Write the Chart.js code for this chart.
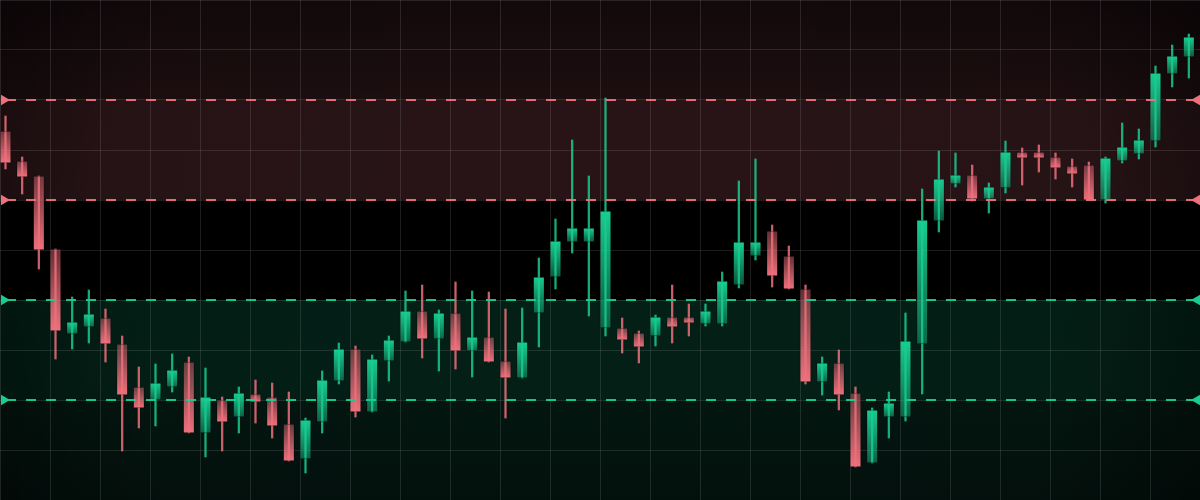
<!DOCTYPE html>
<html lang="en">
<head>
  <meta charset="UTF-8">
  <title>Candlestick Levels</title>
  <script src="https://cdn.jsdelivr.net/npm/chart.js"></script>
  <style>
    html, body { margin: 0; padding: 0; background: #000; }
    canvas { display: block; }
  </style>
</head>
<body>

<canvas id="myChart" width="1200" height="500"></canvas>

<script>
  // candle data (one entry per session)
  const opens  = [369, 339, 324, 251, 166, 173, 182, 156, 113, 100, 113, 138, 67, 100, 83, 106, 103, 76, 41, 78,
                  119, 151, 88, 139, 158, 189, 161, 187, 149, 163, 139, 122, 187, 223, 258, 258, 172, 172, 167, 164,
                  183, 183, 176, 176, 215, 244, 269, 244, 211, 118, 137, 107, 37, 83, 83, 156, 279, 316, 325, 301,
                  312, 348, 348, 343, 334, 335, 300, 339, 346, 359, 426, 443];
  const highs  = [384, 343, 324, 251, 203, 210, 191, 164, 133, 136, 146, 143, 132, 103, 113, 120, 117, 108, 82, 129,
                  157, 154, 145, 164, 209, 215, 190, 218, 209, 208, 191, 192, 242, 281, 360, 324, 402, 182, 169, 185,
                  215, 196, 196, 228, 319, 341, 275, 254, 215, 143, 150, 113, 92, 108, 187, 311, 349, 347, 335, 317,
                  359, 352, 355, 347, 341, 338, 343, 377, 371, 434, 455, 466];
  const lows   = [331, 306, 231, 141, 151, 157, 138, 49, 72, 74, 108, 67, 43, 49, 67, 77, 62, 39, 27, 67,
                  116, 83, 88, 119, 158, 142, 129, 131, 123, 138, 82, 122, 153, 211, 247, 184, 164, 147, 137, 154,
                  157, 164, 174, 174, 212, 240, 213, 211, 116, 105, 90, 33, 37, 62, 79, 106, 268, 313, 299, 287,
                  307, 315, 328, 321, 313, 300, 297, 337, 341, 353, 413, 422];
  const closes = [337, 323, 250, 169, 178, 186, 156, 105, 92, 117, 130, 67, 103, 78, 107, 98, 74, 39, 80, 120,
                  151, 88, 141, 160, 189, 161, 187, 149, 163, 138, 122, 158, 223, 259, 272, 272, 289, 160, 153, 183,
                  173, 177, 189, 219, 258, 258, 224, 211, 118, 137, 105, 33, 90, 97, 159, 280, 321, 325, 301, 313,
                  348, 342, 342, 332, 326, 300, 342, 353, 360, 427, 444, 463];

  // resistance / support levels
  const resistanceLevels = [400, 300];
  const supportLevels = [200, 100];

  const yMin = 0;
  const yMax = 500;
  const yStep = 50;
  const xMin = -0.33;
  const xMax = 71.67;

  const UP = '24, 205, 145';
  const DOWN = '238, 112, 124';

  const bodies = opens.map((o, i) => ({ x: i, y: [o, closes[i]] }));
  const wicks = opens.map((o, i) => ({ x: i, y: [lows[i], highs[i]] }));

  function isUp(i) {
    return closes[i] >= opens[i];
  }

  function bodyFill(ctx) {
    const i = ctx.dataIndex;
    if (i === undefined || ctx.type !== 'data') return 'rgba(0,0,0,0)';
    const chart = ctx.chart;
    const y = chart.scales.y;
    const col = isUp(i) ? UP : DOWN;
    if (!y) return 'rgb(' + col + ')';
    const pOpen = y.getPixelForValue(opens[i]);
    const pClose = y.getPixelForValue(closes[i]);
    if (!isFinite(pOpen) || !isFinite(pClose) || Math.abs(pOpen - pClose) < 1) return 'rgb(' + col + ')';
    const g = chart.ctx.createLinearGradient(0, pOpen, 0, pClose);
    g.addColorStop(0, 'rgba(' + col + ', 0.42)');
    g.addColorStop(1, 'rgba(' + col + ', 1)');
    return g;
  }

  function wickColor(ctx) {
    const i = ctx.dataIndex;
    if (i === undefined) return 'rgba(0,0,0,0)';
    return 'rgba(' + (isUp(i) ? UP : DOWN) + ', 0.85)';
  }

  function levelDataset(level, col) {
    return {
      type: 'line',
      data: [{ x: xMin + 0.24, y: level }, { x: xMax - 0.18, y: level }],
      borderColor: 'rgba(' + col + ', 0.95)',
      borderWidth: 2,
      borderDash: [10, 10],
      borderDashOffset: -2,
      pointStyle: 'triangle',
      pointRadius: 6,
      pointHoverRadius: 6,
      pointBorderWidth: 0,
      pointBackgroundColor: 'rgb(' + col + ')',
      pointRotation: (c) => c.dataIndex === 0 ? 90 : -90,
      order: -1
    };
  }

  // background zones painted from the y scale
  const zonePlugin = {
    id: 'zones',
    beforeDraw(chart) {
      const { ctx, chartArea: a, scales: { y } } = chart;
      if (!a || !y) return;
      const band = (from, to, fill) => {
        const p1 = y.getPixelForValue(to);
        const p2 = y.getPixelForValue(from);
        ctx.fillStyle = fill;
        ctx.fillRect(a.left, p1, a.right - a.left, p2 - p1);
      };
      ctx.save();
      ctx.fillStyle = '#000';
      ctx.fillRect(0, 0, chart.width, chart.height);

      const top = ctx.createLinearGradient(0, y.getPixelForValue(yMax), 0, y.getPixelForValue(resistanceLevels[0]));
      top.addColorStop(0, 'rgb(18, 9, 11)');
      top.addColorStop(1, 'rgb(29, 14, 16)');
      band(resistanceLevels[0], yMax, top);
      band(resistanceLevels[1], resistanceLevels[0], 'rgb(40, 20, 23)');
      band(supportLevels[0], resistanceLevels[1], 'rgb(0, 0, 0)');
      band(supportLevels[1], supportLevels[0], 'rgb(3, 31, 22)');
      const bottom = ctx.createLinearGradient(0, y.getPixelForValue(supportLevels[1]), 0, y.getPixelForValue(yMin));
      bottom.addColorStop(0, 'rgb(4, 22, 16)');
      bottom.addColorStop(1, 'rgb(3, 17, 13)');
      band(yMin, supportLevels[1], bottom);

      // soft vignette
      const cx = (a.left + a.right) / 2;
      const cy = (a.top + a.bottom) / 2;
      const v = ctx.createRadialGradient(cx, cy, 150, cx, cy, 720);
      v.addColorStop(0, 'rgba(0,0,0,0)');
      v.addColorStop(0.6, 'rgba(0,0,0,0.05)');
      v.addColorStop(1, 'rgba(0,0,0,0.6)');
      ctx.fillStyle = v;
      ctx.fillRect(a.left, a.top, a.right - a.left, a.bottom - a.top);
      ctx.restore();
    }
  };

  const ctx = document.getElementById('myChart').getContext('2d');

  const myChart = new Chart(ctx, {
    type: 'bar',
    data: {
      datasets: [
        levelDataset(resistanceLevels[0], DOWN),
        levelDataset(resistanceLevels[1], DOWN),
        levelDataset(supportLevels[0], UP),
        levelDataset(supportLevels[1], UP),
        {
          label: 'body',
          data: bodies,
          grouped: false,
          barThickness: 11,
          backgroundColor: bodyFill,
          borderColor: 'rgba(0, 0, 0, 0.35)',
          borderWidth: 0.8,
          borderSkipped: false,
          order: 0
        },
        {
          label: 'wick',
          data: wicks,
          grouped: false,
          barThickness: 1.6,
          backgroundColor: wickColor,
          borderWidth: 0,
          order: 1
        }
      ]
    },
    options: {
      responsive: false,
      animation: false,
      events: [],
      layout: { padding: 0, autoPadding: false },
      plugins: {
        legend: { display: false },
        tooltip: { enabled: false }
      },
      scales: {
        x: {
          type: 'linear',
          min: xMin,
          max: xMax,
          offset: false,
          afterBuildTicks: (scale) => {
            const t = [];
            for (let k = 0; k <= 24; k++) t.push({ value: xMin + 3 * k });
            scale.ticks = t;
          },
          ticks: { display: false },
          border: { display: false },
          grid: { color: 'rgba(255, 255, 255, 0.11)', lineWidth: 1, drawTicks: false, offset: false }
        },
        y: {
          min: yMin,
          max: yMax,
          ticks: { display: false, stepSize: yStep },
          border: { display: false },
          grid: { color: 'rgba(255, 255, 255, 0.11)', lineWidth: 1, drawTicks: false }
        }
      }
    },
    plugins: [zonePlugin]
  });

  // second pass so the body gradients see laid-out scales
  myChart.update();
</script>

</body>
</html>
